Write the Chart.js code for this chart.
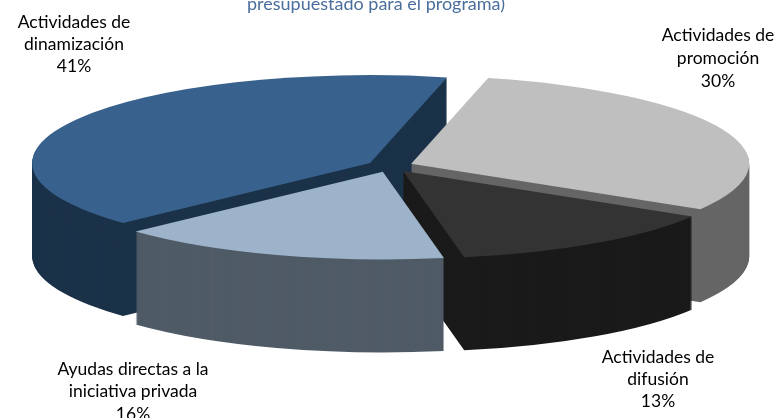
<!DOCTYPE html>
<html>
<head>
<meta charset="utf-8">
<style>
  html, body { margin: 0; padding: 0; background: #fff; }
</style>
<script src="https://cdn.jsdelivr.net/npm/chart.js@4"></script>
</head>
<body>
<canvas id="pie" width="778" height="418"></canvas>
<script>
const categories = ["Actividades de dinamización", "Actividades de promoción", "Actividades de difusión", "Ayudas directas a la iniciativa privada"];
const shares = [40.6, 30, 13.45, 15.95];
const titleTail = "presupuestado para el programa)";
const labelLines = [
    ["Actividades de", "dinamización", "41%"],
    ["Actividades de", "promoción", "30%"],
    ["Actividades de", "difusión", "13%"],
    ["Ayudas directas a la", "iniciativa privada", "16%"]
];
const topColors = ["#38628d", "#bfbfbf", "#333333", "#9db3ca"];
const wallColors = ["#1b3249", "#666666", "#1a1a1a", "#4f5b66"];

// where each label block sits: centre x, first line y, line gap
const labelSpots = [[74, 22, 22], [718, 35, 23], [658, 357, 22], [133, 369, 22.5]];

// tilts the pie and extrudes each slice downwards
const tiltPlugin = {
    id: "tilt",
    beforeDatasetDraw(chart) {
        const ctx = chart.ctx;
        const arcs = chart.getDatasetMeta(0).data;
        const cx = 390, cy = 166, squash = 0.26, depth = 93, explode = 23;

        arcs.forEach((arc, i) => {
            const mid = (arc.startAngle + arc.endAngle) / 2;
            const ghost = Object.create(arc);
            ghost.options = Object.assign({}, arc.options, { backgroundColor: wallColors[i] });
            for (let d = depth; d >= 0; d--) {
                if (d === 0) ghost.options.backgroundColor = topColors[i];
                ctx.save();
                ctx.translate(cx, cy + d);
                ctx.scale(1, squash);
                ctx.translate(Math.cos(mid) * explode - arc.x, Math.sin(mid) * explode - arc.y);
                ghost.draw(ctx);
                ctx.restore();
            }
        });
        return false;
    },
    afterDraw(chart) {
        const ctx = chart.ctx;
        ctx.save();
        ctx.textAlign = "center";
        ctx.textBaseline = "middle";
        ctx.font = '17.5px "Lato", sans-serif';
        ctx.fillStyle = "#000";
        labelLines.forEach((lines, i) => {
            const [x, y, gap] = labelSpots[i];
            lines.forEach((t, n) => ctx.fillText(t, x, y + n * gap));
        });
        ctx.font = '18px "Lato", sans-serif';
        ctx.fillStyle = "#4a6f9c";
        ctx.fillText(titleTail, 376, 4);
        ctx.restore();
    }
};

new Chart(document.getElementById("pie").getContext("2d"), {
    type: "pie",
    data: {
        labels: categories,
        datasets: [{
            data: shares,
            backgroundColor: topColors,
            borderWidth: 0
        }]
    },
    options: {
        responsive: false,
        animation: false,
        radius: 338,
        rotation: -133,
        clip: false,
        plugins: { legend: { display: false }, tooltip: { enabled: false } }
    },
    plugins: [tiltPlugin]
});
</script>
</body>
</html>
